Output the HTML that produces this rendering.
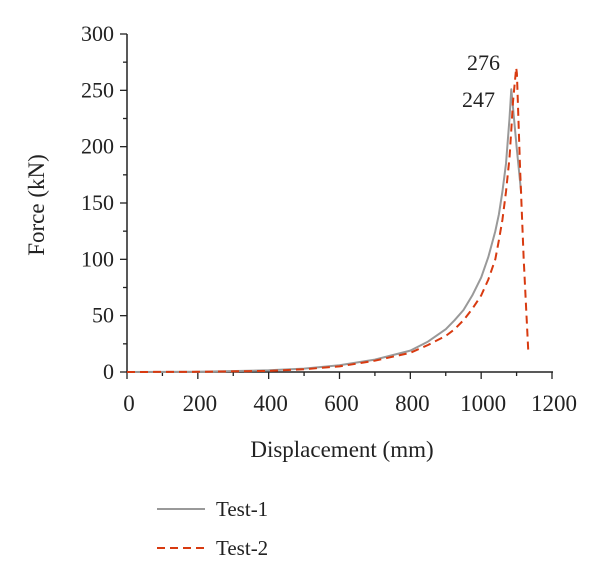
<!DOCTYPE html>
<html><head><meta charset="utf-8"><style>body{margin:0;background:#fff}svg{font-family:"Liberation Serif",serif}</style></head><body>
<svg width="600" height="578">
<g id="axes"></g><g id="plot"></g>
</svg>
<script>
const xTicks=[0,200,400,600,800,1000,1200];
const yTicks=[0,50,100,150,200,250,300];
const test1X=[0,200,400,500,600,700,800,850,900,925,950,975,1000,1020,1040,1050,1060,1070,1080,1085,1100,1113];
const test1Y=[0,0.3,1.5,3,6,11,19,27,38,46,55,68,84,102,125,140,160,185,225,251,200,159];
const test2X=[0,200,400,500,600,700,800,850,900,925,950,975,1000,1020,1040,1050,1060,1070,1080,1085,1090,1099,1101,1110,1120,1133,1136];
const test2Y=[0,0.2,1,2.5,5,10,17,24,32,38,46,56,68,82,100,117,135,160,190,215,240,270,265,180,100,18,17];
const NS='http://www.w3.org/2000/svg';
const X=v=>127+v*(425/1200), Y=v=>372-v*(338/300);
const axes=document.getElementById('axes'), plot=document.getElementById('plot');
function mk(t,a,p){const e=document.createElementNS(NS,t);for(const k in a)e.setAttribute(k,a[k]);(p||axes).appendChild(e);return e;}
let e=mk('line',{x1:127,y1:372,x2:553,y2:372,stroke:'#222','stroke-width':1.5});

e=mk('line',{x1:127,y1:372,x2:127,y2:34,stroke:'#222','stroke-width':1.5});

xTicks.forEach(v=>{mk('line',{x1:X(v),y1:372,x2:X(v),y2:379,stroke:'#222','stroke-width':1.3});
 if(v<1200)mk('line',{x1:X(v+100),y1:372,x2:X(v+100),y2:376,stroke:'#222','stroke-width':1.3});
 const t=mk('text',{x:X(v)+2,y:411,'text-anchor':'middle','font-size':23,fill:'#222'});t.textContent=v;
 });
yTicks.forEach(v=>{mk('line',{x1:120,y1:Y(v),x2:127,y2:Y(v),stroke:'#222','stroke-width':1.3});
 if(v<300)mk('line',{x1:123,y1:Y(v+25),x2:127,y2:Y(v+25),stroke:'#222','stroke-width':1.3});
 const t=mk('text',{x:114,y:Y(v)+7,'text-anchor':'end','font-size':22,fill:'#222'});t.textContent=v;
 });
e=mk('text',{x:342,y:457,'text-anchor':'middle','font-size':23,fill:'#222'});e.textContent='Displacement (mm)';

e=mk('text',{x:44,y:205,'text-anchor':'middle','font-size':23,fill:'#222',transform:'rotate(-90 44 205)'});e.textContent='Force (kN)';

function pts(xs,ys){return xs.map((x,i)=>X(x).toFixed(1)+','+Y(ys[i]).toFixed(1)).join(' ');}
e=mk('polyline',{points:pts(test1X,test1Y),fill:'none',stroke:'#999','stroke-width':2,'stroke-linejoin':'round'},plot);

e=mk('polyline',{points:pts(test2X,test2Y),fill:'none',stroke:'#d83a10','stroke-width':2,'stroke-dasharray':'8,5','stroke-linejoin':'round'},plot);

e=mk('text',{x:467,y:70,'font-size':22,fill:'#222'},plot);e.textContent='276';

e=mk('text',{x:462,y:107,'font-size':22,fill:'#222'},plot);e.textContent='247';

e=mk('line',{x1:157,y1:509,x2:205,y2:509,stroke:'#999','stroke-width':2});

e=mk('text',{x:216,y:516,'font-size':21,fill:'#222'});e.textContent='Test-1';

e=mk('line',{x1:157,y1:548,x2:205,y2:548,stroke:'#d83a10','stroke-width':2,'stroke-dasharray':'8,5'});

e=mk('text',{x:216,y:555,'font-size':21,fill:'#222'});e.textContent='Test-2';

</script>
</body></html>
